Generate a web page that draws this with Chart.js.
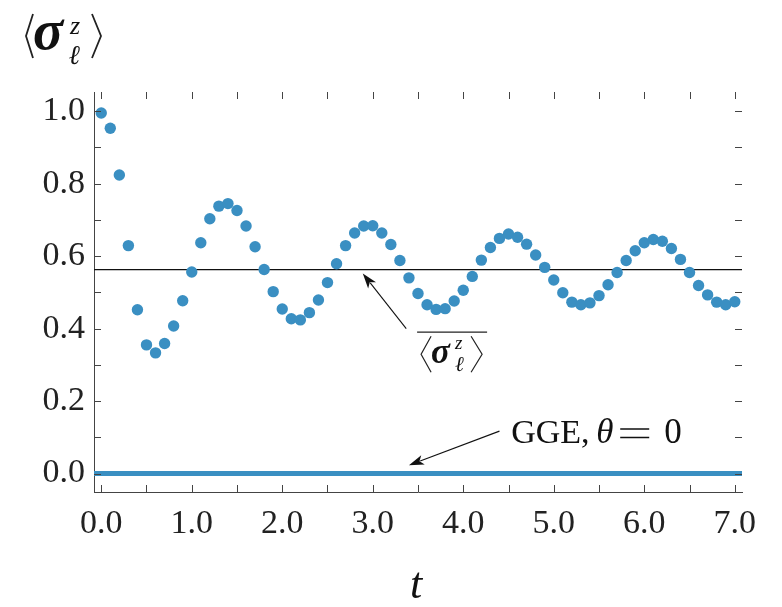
<!DOCTYPE html>
<html>
<head>
<meta charset="utf-8">
<script src="https://cdn.jsdelivr.net/npm/chart.js@4.4.0/dist/chart.umd.min.js"></script>
<style>
  body { margin: 0; background: #fff; }
  #wrap { width: 782px; height: 607px; }
</style>
</head>
<body>
<div id="wrap"><canvas id="sigmaChart" width="782" height="607"></canvas></div>
<script>
// --- data ---
const tValues = [
  0.0, 0.1, 0.2, 0.3, 0.4, 0.5, 0.6, 0.7, 0.8, 0.9,
  1.0, 1.1, 1.2, 1.3, 1.4, 1.5, 1.6, 1.7, 1.8, 1.9,
  2.0, 2.1, 2.2, 2.3, 2.4, 2.5, 2.6, 2.7, 2.8, 2.9,
  3.0, 3.1, 3.2, 3.3, 3.4, 3.5, 3.6, 3.7, 3.8, 3.9,
  4.0, 4.1, 4.2, 4.3, 4.4, 4.5, 4.6, 4.7, 4.8, 4.9,
  5.0, 5.1, 5.2, 5.3, 5.4, 5.5, 5.6, 5.7, 5.8, 5.9,
  6.0, 6.1, 6.2, 6.3, 6.4, 6.5, 6.6, 6.7, 6.8, 6.9, 7.0
];
const sigmaValues = [
  0.995, 0.953, 0.824, 0.629, 0.452, 0.355, 0.333, 0.359, 0.407, 0.477,
  0.556, 0.637, 0.703, 0.738, 0.745, 0.726, 0.683, 0.626, 0.563, 0.502,
  0.454, 0.427, 0.424, 0.444, 0.479, 0.527, 0.579, 0.629, 0.664, 0.683,
  0.684, 0.664, 0.632, 0.588, 0.540, 0.497, 0.466, 0.453, 0.455, 0.476,
  0.506, 0.544, 0.589, 0.624, 0.649, 0.661, 0.652, 0.633, 0.603, 0.569,
  0.534, 0.499, 0.473, 0.466, 0.471, 0.491, 0.521, 0.555, 0.588, 0.615,
  0.637, 0.646, 0.641, 0.621, 0.591, 0.555, 0.519, 0.493, 0.473, 0.466, 0.474
];
const meanValue = 0.563;   // time average
const ggeValue = 0.0;      // GGE, theta = 0

const xTicks = [0, 0.5, 1, 1.5, 2, 2.5, 3, 3.5, 4, 4.5, 5, 5.5, 6, 6.5, 7];
const yTicks = [0, 0.1, 0.2, 0.3, 0.4, 0.5, 0.6, 0.7, 0.8, 0.9, 1.0];
const xMin = -0.08, xMax = 7.08;
const yMin = -0.051, yMax = 1.053;

const blue = '#3a8fc2';
const serif = "'Liberation Serif', 'DejaVu Serif', serif";

// --- helpers for the math-ish labels ---
function bracket(ctx, x0, x1, top, bottom) {
  // draws from x0 at top/bottom to x1 at the middle
  ctx.beginPath();
  ctx.moveTo(x0, top);
  ctx.lineTo(x1, (top + bottom) / 2);
  ctx.lineTo(x0, bottom);
  ctx.stroke();
}

function arrow(ctx, x1, y1, x2, y2) {
  const a = Math.atan2(y2 - y1, x2 - x1);
  const L = 15, W = 5;
  ctx.save();
  ctx.strokeStyle = '#111';
  ctx.fillStyle = '#111';
  ctx.lineWidth = 1.1;
  ctx.beginPath();
  ctx.moveTo(x1, y1);
  ctx.lineTo(x2 - L * 0.8 * Math.cos(a), y2 - L * 0.8 * Math.sin(a));
  ctx.stroke();
  ctx.beginPath();
  ctx.moveTo(x2, y2);
  ctx.lineTo(x2 - L * Math.cos(a) + W * Math.sin(a), y2 - L * Math.sin(a) - W * Math.cos(a));
  ctx.lineTo(x2 - L * 0.75 * Math.cos(a), y2 - L * 0.75 * Math.sin(a));
  ctx.lineTo(x2 - L * Math.cos(a) - W * Math.sin(a), y2 - L * Math.sin(a) + W * Math.cos(a));
  ctx.closePath();
  ctx.fill();
  ctx.restore();
}

// inward ticks on all four sides, plus titles and annotations
const decorPlugin = {
  id: 'decor',
  afterDraw(chart) {
    const ctx = chart.ctx;
    const xs = chart.scales.x, ys = chart.scales.y;
    const a = chart.chartArea;
    ctx.save();
    ctx.strokeStyle = '#444';
    ctx.lineWidth = 1;
    xTicks.forEach(v => {
      const px = Math.round(xs.getPixelForValue(v)) + 0.5;
      ctx.beginPath();
      ctx.moveTo(px, a.bottom); ctx.lineTo(px, a.bottom - 7);
      ctx.moveTo(px, a.top); ctx.lineTo(px, a.top + 7);
      ctx.stroke();
    });
    yTicks.forEach(v => {
      const py = Math.round(ys.getPixelForValue(v)) + 0.5;
      ctx.beginPath();
      ctx.moveTo(a.left, py); ctx.lineTo(a.left + 7, py);
      ctx.moveTo(a.right, py); ctx.lineTo(a.right - 7, py);
      ctx.stroke();
    });
    ctx.restore();

    ctx.save();
    ctx.fillStyle = '#111';
    ctx.strokeStyle = '#222';
    ctx.textBaseline = 'alphabetic';

    // y title top-left: <sigma_l^z>
    ctx.lineWidth = 1.8;
    bracket(ctx, 33, 26, 14, 58);
    ctx.font = 'bold italic 56px ' + serif;
    ctx.fillText('σ', 33, 49);
    ctx.font = 'italic 26px ' + serif;
    ctx.fillText('z', 70, 34);
    ctx.font = 'bold italic 27px ' + serif;
    ctx.fillText('ℓ', 69, 64);
    bracket(ctx, 92, 101, 14, 58);

    // x title
    ctx.font = 'italic 44px ' + serif;
    ctx.textAlign = 'center';
    ctx.fillText('t', (a.left + a.right) / 2 - 2, 598);
    ctx.textAlign = 'left';

    // annotation: time average, overline sits at y = 0.39
    const ox = xs.getPixelForValue(3.49), oy = ys.getPixelForValue(0.39);
    ctx.lineWidth = 1.3;
    ctx.beginPath();
    ctx.moveTo(ox, oy); ctx.lineTo(ox + 70, oy);
    ctx.stroke();
    ctx.lineWidth = 1.2;
    bracket(ctx, ox + 14, ox + 4, oy + 4, oy + 40);
    ctx.font = 'bold italic 35px ' + serif;
    ctx.fillText('σ', ox + 14, oy + 31);
    ctx.font = 'italic 19px ' + serif;
    ctx.fillText('z', ox + 38, oy + 17);
    ctx.font = 'italic 21px ' + serif;
    ctx.fillText('ℓ', ox + 38, oy + 39);
    bracket(ctx, ox + 54, ox + 65, oy + 4, oy + 40);
    ctx.restore();
    arrow(ctx, xs.getPixelForValue(3.37), ys.getPixelForValue(0.40),
               xs.getPixelForValue(2.89), ys.getPixelForValue(0.552));

    // annotation: GGE, theta = 0
    const gx = xs.getPixelForValue(4.53), gy = ys.getPixelForValue(0.083);
    ctx.save();
    ctx.fillStyle = '#111';
    ctx.strokeStyle = '#111';
    ctx.font = '34px ' + serif;
    ctx.fillText('GGE,', gx, gy);
    ctx.font = 'italic 35px ' + serif;
    ctx.fillText('θ', gx + 85, gy);
    // wide "=" like the TeX one
    ctx.lineWidth = 1.6;
    ctx.beginPath();
    ctx.moveTo(gx + 109, gy - 14.5); ctx.lineTo(gx + 138, gy - 14.5);
    ctx.moveTo(gx + 109, gy - 6); ctx.lineTo(gx + 138, gy - 6);
    ctx.stroke();
    ctx.font = '35px ' + serif;
    ctx.fillText('0', gx + 153, gy);
    ctx.restore();
    arrow(ctx, xs.getPixelForValue(4.40), ys.getPixelForValue(0.117),
               xs.getPixelForValue(3.40), ys.getPixelForValue(0.023));
  }
};

const points = tValues.map((t, i) => ({ x: t, y: sigmaValues[i] }));

new Chart(document.getElementById('sigmaChart').getContext('2d'), {
  type: 'scatter',
  data: {
    datasets: [
      {
        type: 'line',
        data: [{ x: xMin, y: meanValue }, { x: xMax, y: meanValue }],
        borderColor: '#111',
        borderWidth: 1.2,
        pointRadius: 0,
        order: 3
      },
      {
        type: 'line',
        data: [{ x: xMin, y: ggeValue }, { x: xMax, y: ggeValue }],
        borderColor: blue,
        borderWidth: 5,
        pointRadius: 0,
        clip: false,
        order: 2
      },
      {
        data: points,
        backgroundColor: blue,
        borderWidth: 0,
        pointRadius: 5.7,
        order: 1
      }
    ]
  },
  options: {
    responsive: false,
    animation: false,
    layout: { padding: { left: 0, right: 40, top: 92, bottom: 0 } },
    plugins: { legend: { display: false }, tooltip: { enabled: false } },
    scales: {
      x: {
        type: 'linear',
        min: xMin,
        max: xMax,
        grid: { display: false, drawTicks: false },
        border: { display: true, color: '#444', width: 1 },
        afterBuildTicks: s => { s.ticks = xTicks.map(v => ({ value: v })); },
        afterFit: s => { s.height = 115; },
        ticks: {
          autoSkip: false,
          maxRotation: 0,
          padding: 12,
          color: '#222',
          font: { family: serif, size: 34 },
          callback: v => Number.isInteger(v) ? v.toFixed(1) : ''
        }
      },
      y: {
        min: yMin,
        max: yMax,
        grid: { display: false, drawTicks: false },
        border: { display: true, color: '#444', width: 1 },
        afterBuildTicks: s => { s.ticks = yTicks.map(v => ({ value: v })); },
        afterFit: s => { s.width = 94; },
        ticks: {
          autoSkip: false,
          padding: 9,
          color: '#222',
          font: { family: serif, size: 34 },
          callback: v => (Math.round(v * 10) % 2 === 0) ? v.toFixed(1) : ''
        }
      }
    }
  },
  plugins: [decorPlugin]
});
</script>
</body>
</html>
